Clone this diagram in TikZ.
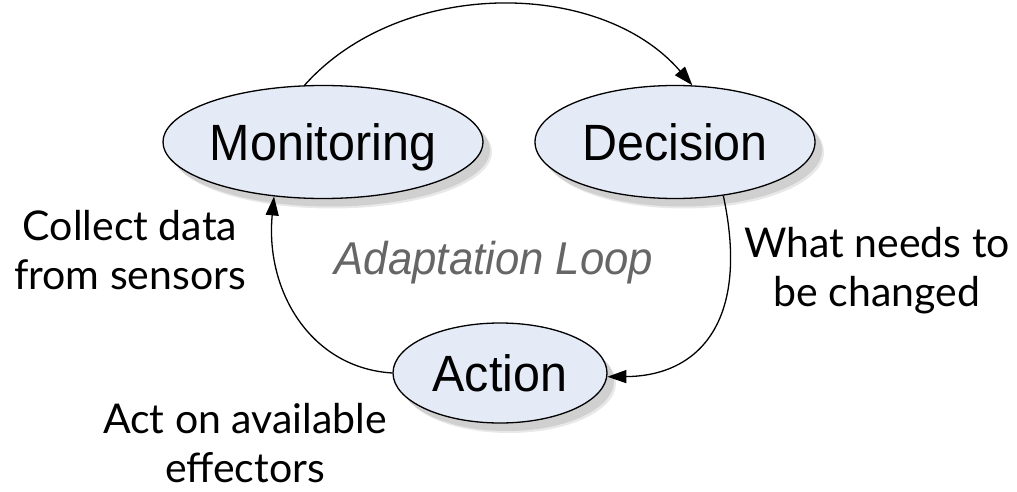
\documentclass[tikz,border=0pt]{standalone}
\usepackage{fontspec}
\setmainfont{Lato}
\newfontfamily\stagefont[FakeStretch=0.95]{Liberation Sans}
\newfontfamily\loopfont[FakeStretch=0.95]{Liberation Sans}
\usetikzlibrary{shapes.geometric,arrows.meta,shadows}
\definecolor{stagefill}{HTML}{E4EAF6}
\definecolor{loopgray}{HTML}{666666}

\begin{document}
\begin{tikzpicture}[x=1pt,y=-1pt,
  stage/.style={ellipse, draw=black, line width=1.3pt, fill=stagefill,
    inner sep=0pt, text height=36.5pt, text depth=0pt,
    font={\stagefont\fontsize{51}{56}\selectfont},
    drop shadow={shadow xshift=9pt, shadow yshift=-10pt, fill=black!18},
    drop shadow={shadow xshift=7pt, shadow yshift=-8pt, fill=black!28}},
  flow/.style={line width=1.3pt, -{Triangle[length=19pt,width=13pt]}},
  note/.style={align=center, inner sep=0pt,
    font={\fontsize{41}{49}\selectfont}}]

\useasboundingbox (0,0) rectangle (1017,492);

% the three stages of the loop
\node[stage, minimum width=280pt, minimum height=113pt] (mon) at (323,142) {Monitoring};
\node[stage, minimum width=280pt, minimum height=113pt] (dec) at (675,142) {Decision};
\node[stage, minimum width=214pt, minimum height=100pt] (act) at (500,373) {Action};

% transitions between the stages
\draw[flow] (mon.108) .. controls (400,-22) and (600,-22) .. (dec.73);
\draw[flow] (dec.-48) .. controls (750,320) and (700,376) .. (act.-2);
\draw[flow] (act.180) .. controls (310,368) and (265,290) .. (mon.228);

% loop title
\node[font={\loopfont\itshape\fontsize{46}{50}\selectfont}, text=loopgray, inner sep=0pt]
  (title) at (494,263) {Adaptation Loop};

% descriptions of the stages
\node[note] (collect) at (130,250) {Collect data\\from sensors};
\node[note] (change) at (877,271) {What needs to\\be changed};
\node[note] (effect) at (245,443) {Act on available\\effectors};
\end{tikzpicture}
\end{document}
